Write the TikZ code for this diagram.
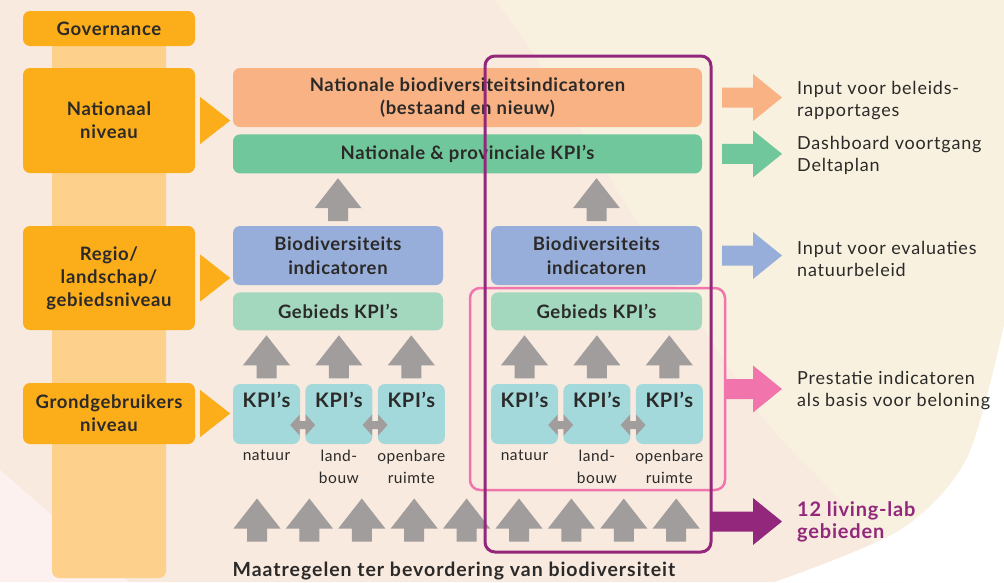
\documentclass[tikz,border=0pt]{standalone}
\usepackage{fontspec}
\setmainfont{Lato}[LetterSpace=3.5]
\usetikzlibrary{positioning, calc}

\definecolor{oranje}{HTML}{FBAD1A}
\definecolor{kolom}{HTML}{FDD08B}
\definecolor{zalm}{HTML}{F8B283}
\definecolor{groen}{HTML}{6FC79B}
\definecolor{blauw}{HTML}{97AEDA}
\definecolor{lichtgroen}{HTML}{A3D8BF}
\definecolor{cyaan}{HTML}{A3D9DB}
\definecolor{grijs}{HTML}{A19D9C}
\definecolor{paars}{HTML}{93277B}
\definecolor{roze}{HTML}{F174AC}
\definecolor{perzik}{HTML}{F8EADF}
\definecolor{creme}{HTML}{F8F1DF}
\definecolor{lichtroze}{HTML}{FCF1EE}
\definecolor{tekst}{HTML}{2B2A29}

\tikzset{
  niveau/.style={fill=oranje, rounded corners=7pt, text=tekst, align=center, minimum width=172pt, inner sep=0pt, font=\fontsize{18.5}{23}\selectfont\bfseries},
  blok/.style={rounded corners=7pt, text=tekst, align=center, inner sep=0pt, font=\fontsize{18.5}{23.5}\selectfont\bfseries},
  kpi/.style={blok, fill=cyaan, minimum width=67pt, minimum height=60pt, label={[anchor=north, inner sep=0pt, yshift=-8.5pt, text=tekst, font=\fontsize{20}{24}\selectfont\bfseries]north:KPI’s}},
  sector/.style={text=tekst, align=center, inner sep=0pt, font=\fontsize{15.5}{21.5}\selectfont},
  uitleg/.style={text=tekst, align=left, anchor=west, inner sep=0pt, font=\fontsize{18}{22}\selectfont\addfontfeature{LetterSpace=4.5}},
  pics/omhoog/.style={code={\fill[grijs] (-10,21.5) -- (-10,8.5) -- (-23.5,8.5) -- (0,-21.5) -- (23.5,8.5) -- (10,8.5) -- (10,21.5) -- cycle;}},
  pics/heenweer/.style={code={\fill[grijs] (-12.5,0) -- (-3,-10.5) -- (-3,-4) -- (3,-4) -- (3,-10.5) -- (12.5,0) -- (3,10.5) -- (3,4) -- (-3,4) -- (-3,10.5) -- cycle;}},
  pics/rechts/.style 2 args={code={\fill[#2] (0,0) -- (-29,-23.5) -- (-29,-10) -- (-#1,-10) -- (-#1,10) -- (-29,10) -- (-29,23.5) -- cycle;}},
}

\begin{document}
\begin{tikzpicture}[x=1pt, y=-1pt]

  % Fond
  \useasboundingbox (0,0) rectangle (1004,582);
  \fill[creme] (0,0) rectangle (1004,582);
  \fill[perzik] (0,0) -- plot[smooth] coordinates {(495,0) (537,60) (640,227) (757,410) (833,493) (905,582)} -- (129,582) -- (0,470) -- cycle;
  \fill[lichtroze] (0,470) -- (129,582) -- (0,582) -- cycle;
  \fill[white] (1004,582) -- plot[smooth] coordinates {(1004,325) (967,458) (900,530) (775,582)} -- cycle;

  % Colonne et niveaux
  \fill[kolom, rounded corners=7pt] (52,40) rectangle (166,578);
  \node[niveau, minimum height=35pt] (gov) at (109,28.5) {Governance};
  \node[niveau, minimum height=105pt] (nat) at (109,120.5) {Nationaal\\niveau};
  \node[niveau, minimum height=104pt] (reg) at (109,278) {Regio/\\landschap/\\gebiedsniveau};
  \node[niveau, minimum height=61pt] (grond) at (109,413.5) {Grondgebruikers\\niveau};
  \foreach \n in {nat, reg, grond}
    \fill[oranje] ($(\n.east)+(5,-23.5)$) -- ($(\n.east)+(35,0)$) -- ($(\n.east)+(5,23.5)$) -- cycle;

  % Indicateurs
  \node[blok, fill=zalm, minimum width=469pt, minimum height=59pt] (natind) at (467.5,97.5) {Nationale biodiversiteitsindicatoren\\(bestaand en nieuw)};
  \node[blok, fill=groen, minimum width=469pt, minimum height=39pt, below=7pt of natind] (natkpi) {Nationale \& provinciale KPI’s};
  \node[blok, fill=blauw, minimum width=210pt, minimum height=59pt] (bioL) at (338,255.5) {Biodiversiteits\\indicatoren};
  \node[blok, fill=blauw, minimum width=211pt, minimum height=59pt] (bioR) at (596.5,255.5) {Biodiversiteits\\indicatoren};
  \node[blok, fill=lichtgroen, minimum width=210pt, minimum height=38pt, below=7pt of bioL] (gebL) {Gebieds KPI’s};
  \node[blok, fill=lichtgroen, minimum width=211pt, minimum height=38pt, below=7pt of bioR] (gebR) {Gebieds KPI’s};

  % KPI par secteur
  \node[kpi] (kpiL1) at (266.5,414) {};
  \node[kpi, right=5pt of kpiL1] (kpiL2) {};
  \node[kpi, right=5pt of kpiL2] (kpiL3) {};
  \node[kpi] (kpiR1) at (524.5,414) {};
  \node[kpi, right=5pt of kpiR1] (kpiR2) {};
  \node[kpi, right=5pt of kpiR2] (kpiR3) {};
  \foreach \s in {L, R} {
    \node[sector, below=6pt of kpi\s1] {natuur};
    \node[sector, below=6pt of kpi\s2] {land-\\bouw};
    \node[sector, below=6pt of kpi\s3] {openbare\\ruimte};
    \pic at ($(kpi\s1.east)!0.5!(kpi\s2.west)+(0,11)$) {heenweer};
    \pic at ($(kpi\s2.east)!0.5!(kpi\s3.west)+(0,11)$) {heenweer};
  }

  % Fleches vers le haut
  \pic at ($(natkpi.south -| bioL)!0.5!(bioL.north)$) {omhoog};
  \pic at ($(natkpi.south -| bioR)!0.5!(bioR.north)$) {omhoog};
  \foreach \k in {kpiL1, kpiL2, kpiL3, kpiR1, kpiR2, kpiR3}
    \pic at ($(\k.north)+(0,-27)$) {omhoog};
  \foreach \i in {0,...,8}
    \pic at ({257+52.4*\i},520) {omhoog};
  \node[text=tekst, inner sep=0pt, font=\fontsize{19.5}{22}\selectfont\bfseries\addfontfeature{LetterSpace=5}] (maatr) at (454,571) {Maatregelen ter bevordering van biodiversiteit};

  % Cadres
  \node[draw=roze, line width=2.5pt, rounded corners=10pt, minimum width=255pt, minimum height=202pt] (prestframe) at (597.5,389) {};
  \node[draw=paars, line width=3pt, rounded corners=10pt, minimum width=226pt, minimum height=496pt] (labframe) at (598,304) {};

  % Sorties
  \node[uitleg] (uitA) at (797,101) {Input voor beleids-\\rapportages};
  \node[uitleg] (uitB) at (797,155.5) {Dashboard voortgang\\Deltaplan};
  \node[uitleg] (uitC) at (797,258.5) {Input voor evaluaties\\natuurbeleid};
  \node[uitleg] (uitD) at (797,391) {Prestatie indicatoren\\als basis voor beloning};
  \node[uitleg, text=paars, font=\fontsize{20}{21.5}\selectfont\bfseries\addfontfeature{LetterSpace=4}] (uitE) at (797,522) {12 living-lab\\gebieden};
  \pic at ($(natind.east -| uitA.west)+(-15,0)$) {rechts={60}{zalm}};
  \pic at ($(natkpi.east -| uitB.west)+(-15,0)$) {rechts={60}{groen}};
  \pic at ($(bioR.east -| uitC.west)+(-15,0)$) {rechts={60}{blauw}};
  \pic at ($(prestframe.east -| uitD.west)+(-15,0)$) {rechts={57}{roze}};
  \pic at ($(labframe.south -| uitE.west)+(-15,-32)$) {rechts={71}{paars}};

\end{tikzpicture}
\end{document}
